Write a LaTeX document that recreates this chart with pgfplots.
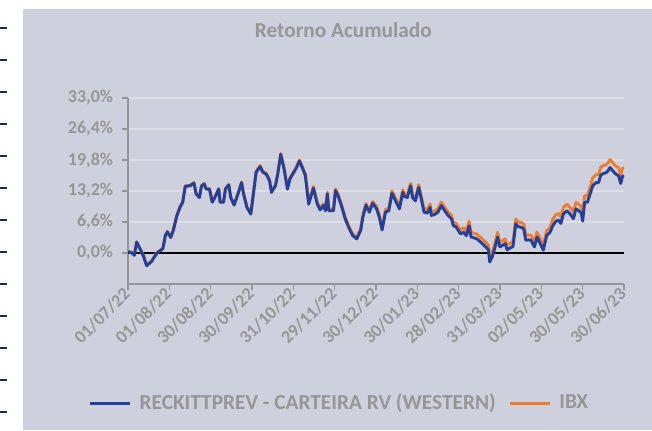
\documentclass[border=0pt]{standalone}
\usepackage{fontspec}
\setmainfont{Carlito}
\usepackage{pgfplots}
\pgfplotsset{compat=1.18}
\definecolor{bgc}{RGB}{207,208,222}
\definecolor{txtgray}{RGB}{150,150,150}
\definecolor{axgray}{RGB}{150,150,150}
\definecolor{gridc}{RGB}{222,222,230}
\definecolor{blueline}{RGB}{36,64,152}
\definecolor{orangeline}{RGB}{237,125,49}
\definecolor{dashc}{RGB}{30,40,90}
\begin{document}
\begin{tikzpicture}
\useasboundingbox (0,0) rectangle (489pt,322.5pt);
\fill[bgc] (17.25pt,0) rectangle (489pt,315.75pt);
\foreach \k in {0,...,12}{
  \draw[dashc, line width=1.1pt] (0,{301.5pt-24pt*\k}) -- (5.25pt,{301.5pt-24pt*\k});
}
\node[font=\fontsize{16}{18}\selectfont\bfseries, text=txtgray] at (257.5pt,300pt) {Retorno Acumulado};
\begin{axis}[
  at={(96pt,109.5pt)}, anchor=south west,
  scale only axis, width=372pt, height=139.5pt,
  xmin=0, xmax=252, ymin=-6.6, ymax=33,
  axis lines=left,
  axis line style={-, draw=axgray},
  y axis line style={line width=2pt},
  x axis line style={line width=1.3pt},
  tick align=outside,
  major tick length=4.5pt,
  tick style={draw=axgray, line width=1.2pt},
  xtick={0,21,...,252},
  xticklabels={01/07/22,01/08/22,30/08/22,30/09/22,31/10/22,29/11/22,30/12/22,30/01/23,28/02/23,31/03/23,02/05/23,30/05/23,30/06/23},
  ytick={0,6.6,13.2,19.8,26.4,33},
  yticklabels={{0,0\%},{6,6\%},{13,2\%},{19,8\%},{26,4\%},{33,0\%}},
  ymajorgrids,
  major grid style={draw=gridc, line width=1.1pt},
  ticklabel style={font=\fontsize{13.5}{15}\selectfont\bfseries, text=txtgray},
  xticklabel style={rotate=45, anchor=east, inner sep=1pt},
  yticklabel style={inner sep=2pt, xshift=-4.5pt},
  legend style={at={(0.427,-0.64)}, anchor=center, draw=none, fill=none,
    legend columns=2, font=\fontsize{16}{18}\selectfont\bfseries, text=txtgray,
    /tikz/every odd column/.append style={column sep=4pt},
    /tikz/every even column/.append style={column sep=7.5pt}},
  legend image code/.code={\draw[#1] (0pt,0pt) -- (30pt,0pt);},
]
\addplot[black, line width=1.1pt, forget plot] coordinates {(0,0) (252,0)};
\addplot[orangeline, line width=2.2pt, line join=round, forget plot] coordinates {
(0,0.4) (2,0.1) (3.2,-0.4) (4.4,2.4) (6.1,1.0) (7.8,-0.5) (9.5,-2.6) (12,-1.7) (13.3,-0.8) (15,0.2)
(16.4,0.6) (17.7,1.0) (19,3.8) (20,4.6) (21.7,3.4) (23,4.9) (24.8,8.0) (26.4,9.8) (27.8,10.9) (29.1,14.3)
(31.5,14.4) (33.5,15.0) (34.6,12.7) (36.3,11.9) (37.3,14.3) (38.7,14.8) (39.7,13.7) (41.4,13.7) (42.8,10.9) (44.1,11.9)
(46.1,13.7) (46.8,10.9) (48.5,10.9) (49.5,13.7) (51.2,14.6) (52.2,11.9) (53.9,10.3) (55.9,12.7) (57.7,15.1) (58.7,12.7)
(60.4,9.9) (62.4,8.5) (65.1,17.4) (67.1,18.6) (68.5,17.4) (70.2,17.0) (71.9,15.6) (72.9,13.1) (74.9,14.5) (76,16.8)
(77.6,21.2) (79.3,18.1) (81,13.8) (82.3,16.0) (85.4,18.2) (87.1,19.8) (88.8,18.1) (90.1,16.85) (91.8,10.75) (94.2,14.15)
(96.2,10.75) (97.6,9.55) (99.3,10.45) (100.3,9.35) (101.3,12.95) (102,9.35) (104.4,9.35) (105.4,13.65) (106.7,12.55) (108.4,10.45)
(110.4,7.55) (112.5,5.45) (114.2,4.05) (116.2,3.35) (118.2,5.15) (119.3,7.95) (120.9,10.55) (122.6,9.05) (124.3,10.95) (126.3,9.95)
(127.7,8.15) (129.1,5.45) (130.8,9.25) (132.5,9.55) (134.1,13.25) (135.5,12.05) (136.5,11.15) (137.9,9.95) (139.6,13.45) (140.6,12.55)
(141.9,12.35) (143.6,14.85) (144.6,12.35) (146,11.65) (147.7,14.55) (149,12.05) (150.4,9.45) (152.1,9.25) (153.5,10.45) (154.1,8.75)
(155.8,8.95) (157.5,9.45) (159.2,10.85) (160.9,9.75) (162.6,8.75) (164.3,8.05) (165.3,6.55) (166.6,6.35) (168.9,4.85) (170.5,5.4)
(171.9,4.7) (173.3,6.8) (174.3,4.4) (176,4.2) (177.3,4.0) (178.7,3.5) (180,3.0) (181.7,2.3) (183.1,1.7) (183.8,-0.9)
(185.1,0.2) (186.5,2.3) (187.8,4.4) (188.9,2.3) (190.2,2.6) (191.6,3.0) (192.6,1.7) (194.3,2.1) (195.6,2.4) (197,7.2)
(198.4,6.6) (199.7,6.5) (201.1,6.15) (202.1,3.75) (203.5,3.85) (204.8,3.75) (206.5,2.35) (207.8,4.45) (209,3.45) (211,1.65)
(212.7,4.75) (214.4,5.45) (215.8,7.2) (217.5,8.2) (218.8,8.4) (219.9,7.7) (221.2,9.7) (223,10.4) (224.6,9.7) (226.3,8.7)
(227.6,10.8) (229,10.4) (230.3,9.9) (231,8.2) (232,12.2) (233.4,12.2) (234.7,13.9) (236.1,16.0) (237.8,16.7) (239.1,16.7)
(240.2,18.3) (241.5,18.6) (242.9,18.8) (243.9,19.2) (244.9,19.9) (246.3,19.2) (247.6,18.6) (249.3,18.1) (250.3,16.5) (251.3,18.1)
(252,17.9)
};
\addplot[blueline, line width=2.2pt, line join=round] coordinates {
(0,0.3) (2,0.0) (3.2,-0.5) (4.4,2.3) (6.1,0.9) (7.8,-0.6) (9.5,-2.7) (12,-1.8) (13.3,-0.9) (15,0.1)
(16.4,0.5) (17.7,0.9) (19,3.7) (20,4.5) (21.7,3.3) (23,4.8) (24.8,7.9) (26.4,9.7) (27.8,10.8) (29.1,14.2)
(31.5,14.3) (33.5,14.9) (34.6,12.6) (36.3,11.8) (37.3,14.2) (38.7,14.7) (39.7,13.6) (41.4,13.6) (42.8,10.8) (44.1,11.8)
(46.1,13.6) (46.8,10.8) (48.5,10.8) (49.5,13.6) (51.2,14.5) (52.2,11.8) (53.9,10.2) (55.9,12.6) (57.7,15.0) (58.7,12.6)
(60.4,9.7) (62.4,8.3) (65.1,17.2) (67.1,18.4) (68.5,17.2) (70.2,16.8) (71.9,15.4) (72.9,12.9) (74.9,14.3) (76,16.6)
(77.6,21.0) (79.3,17.9) (81,13.6) (82.3,15.8) (85.4,18.0) (87.1,19.6) (88.8,17.9) (90.1,16.5) (91.8,10.4) (94.2,13.8)
(96.2,10.4) (97.6,9.2) (99.3,10.1) (100.3,9.0) (101.3,12.6) (102,9.0) (104.4,9.0) (105.4,13.3) (106.7,12.2) (108.4,10.1)
(110.4,7.2) (112.5,5.1) (114.2,3.7) (116.2,3.0) (118.2,4.8) (119.3,7.6) (120.9,10.2) (122.6,8.7) (124.3,10.6) (126.3,9.4)
(127.7,7.6) (129.1,4.9) (130.8,8.7) (132.5,9.0) (134.1,12.7) (135.5,11.5) (136.5,10.6) (137.9,9.4) (139.6,12.9) (140.6,12.0)
(141.9,11.8) (143.6,14.3) (144.6,11.8) (146,11.1) (147.7,14.0) (149,11.5) (150.4,8.7) (152.1,8.5) (153.5,9.7) (154.1,8.0)
(155.8,8.2) (157.5,8.7) (159.2,10.1) (160.9,9.0) (162.6,8.0) (164.3,7.3) (165.3,5.8) (166.6,5.6) (168.9,4.1) (170.5,4.4)
(171.9,3.7) (173.3,5.8) (174.3,3.4) (176,3.2) (177.3,3.0) (178.7,2.5) (180,2.0) (181.7,1.3) (183.1,0.7) (183.8,-1.9)
(185.1,-0.8) (186.5,1.3) (187.8,3.4) (188.9,1.3) (190.2,1.6) (191.6,2.0) (192.6,0.7) (194.3,1.1) (195.6,1.4) (197,6.2)
(198.4,5.6) (199.7,5.5) (201.1,5.1) (202.1,2.7) (203.5,2.8) (204.8,2.7) (206.5,1.3) (207.8,3.4) (209,2.4) (211,0.6)
(212.7,3.7) (214.4,4.4) (215.8,5.8) (217.5,6.8) (218.8,7.0) (219.9,6.3) (221.2,8.3) (223,9.0) (224.6,8.3) (226.3,7.3)
(227.6,9.4) (229,9.0) (230.3,8.5) (231,6.8) (232,10.8) (233.4,10.8) (234.7,12.5) (236.1,14.3) (237.8,15.0) (239.1,15.0)
(240.2,16.6) (241.5,16.9) (242.9,17.1) (243.9,17.5) (244.9,18.2) (246.3,17.5) (247.6,16.9) (249.3,16.4) (250.3,14.8) (251.3,16.4)
(252,16.2)
};
\addlegendentry{RECKITTPREV - CARTEIRA RV (WESTERN)}
\addlegendimage{orangeline, line width=2.2pt}
\addlegendentry{IBX}
\end{axis}
\end{tikzpicture}
\end{document}
